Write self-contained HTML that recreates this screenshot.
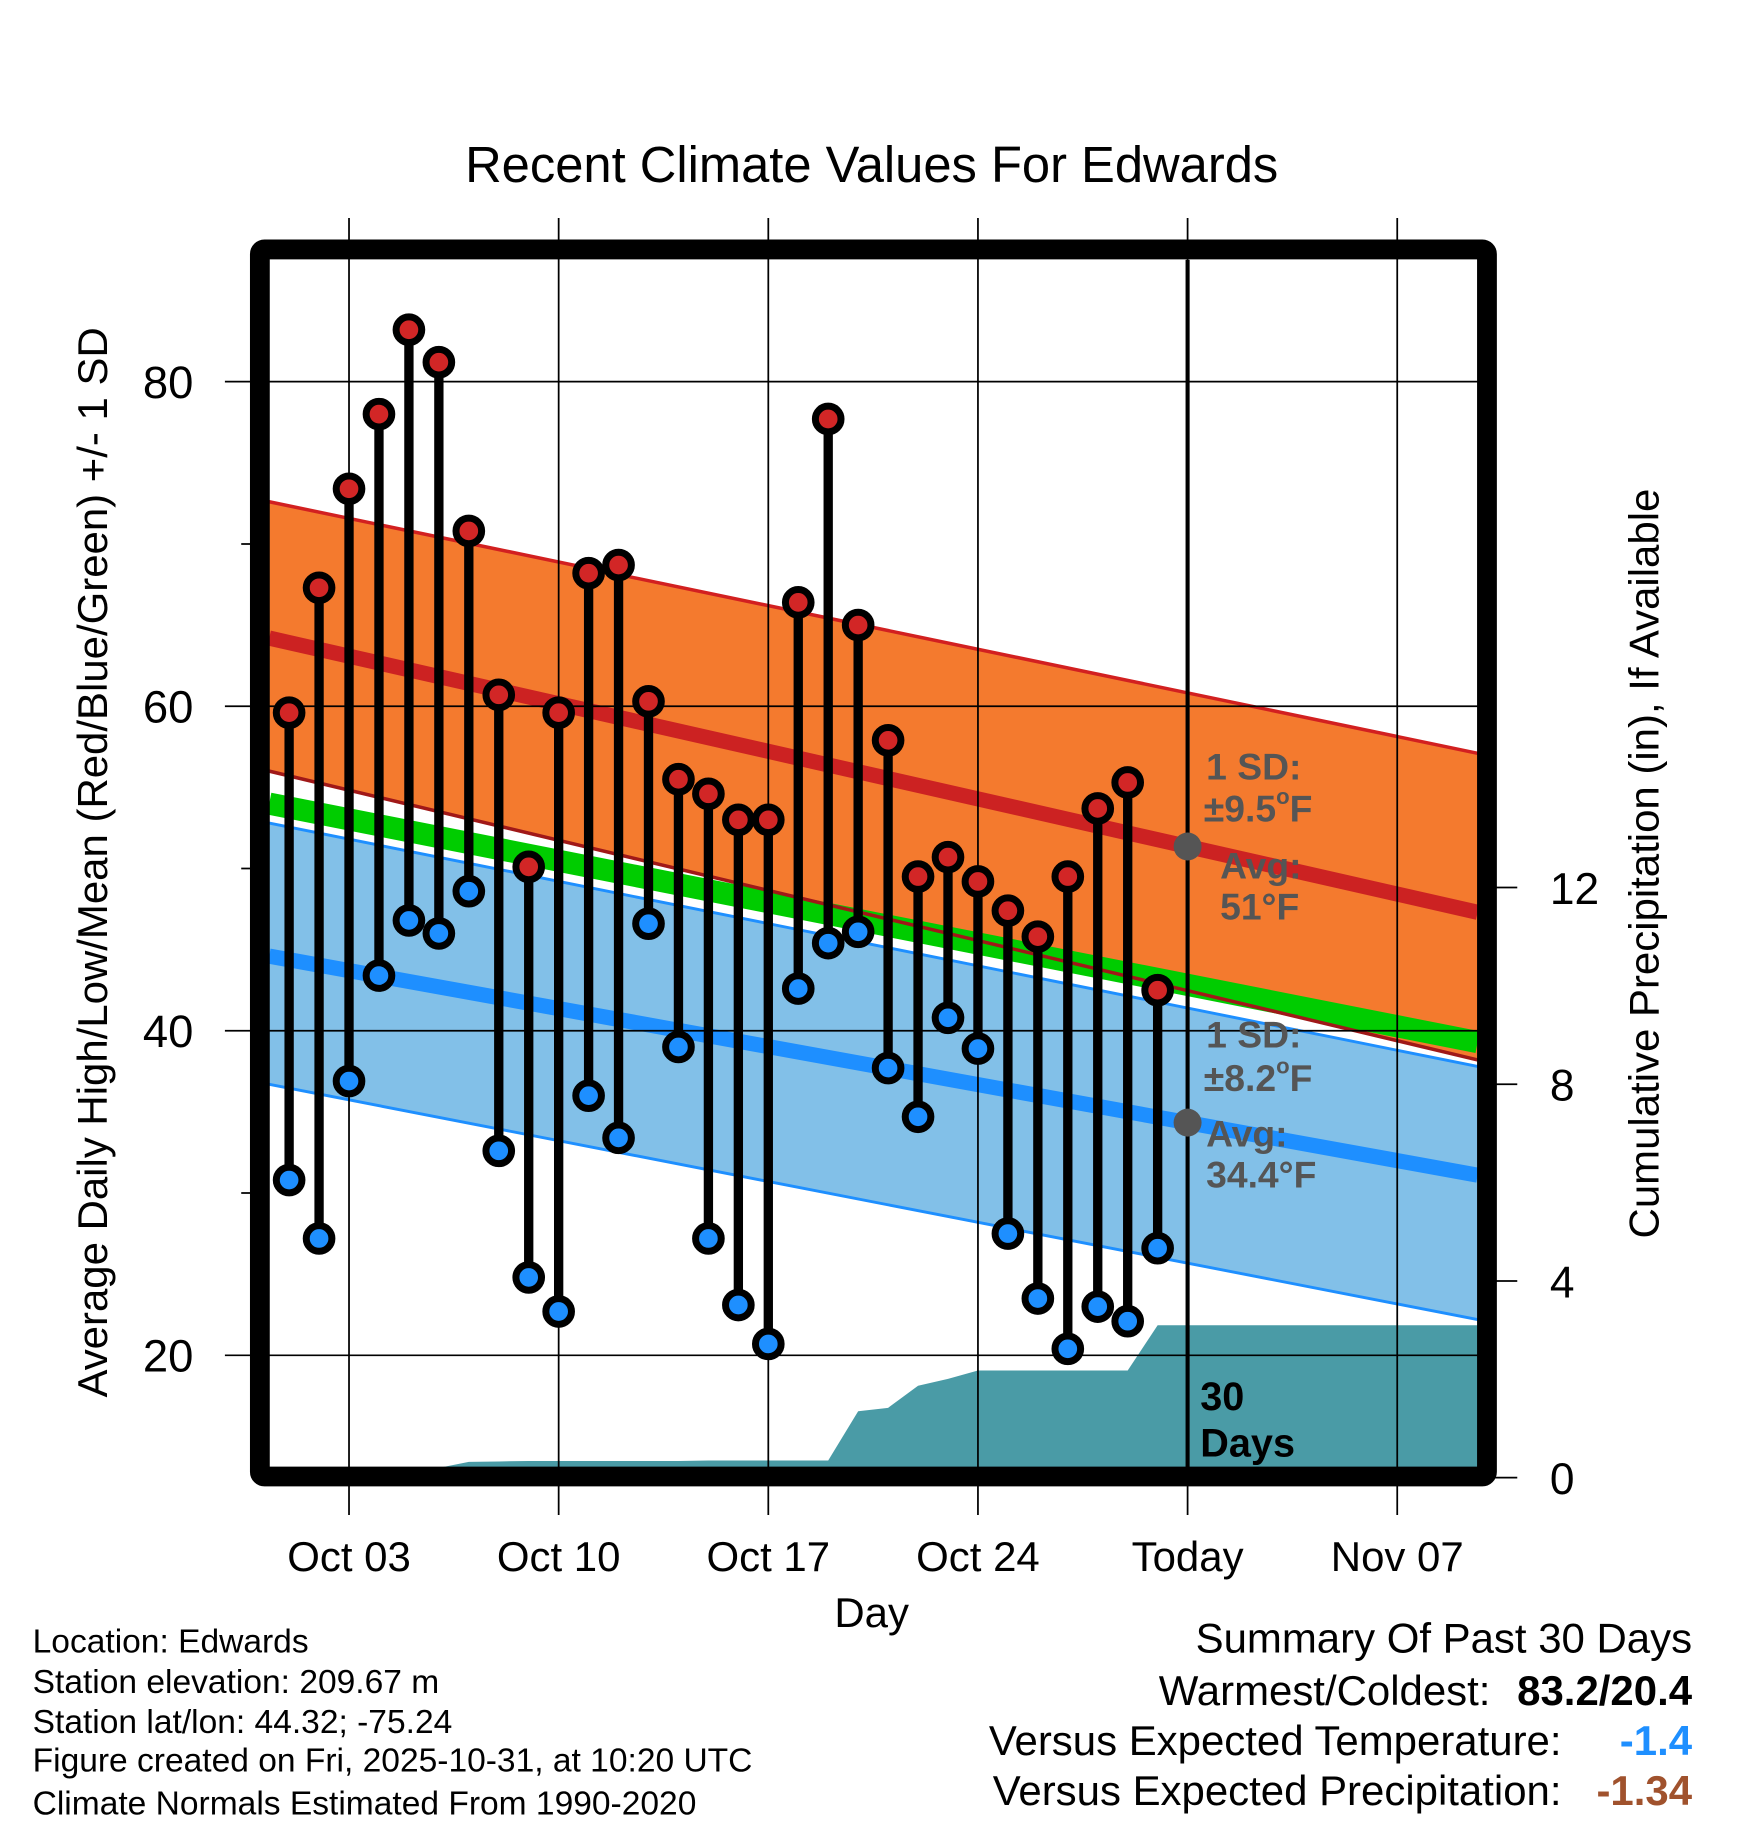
<!DOCTYPE html>
<html><head><meta charset="utf-8"><style>html,body{margin:0;padding:0;background:#fff}svg{display:block;font-family:"Liberation Sans",Arial,sans-serif}</style></head>
<body>
<svg id="c" width="1748" height="1828" viewBox="0 0 1500 1568.6"></svg>
<script>
const days = ["Oct 01","Oct 02","Oct 03","Oct 04","Oct 05","Oct 06","Oct 07","Oct 08","Oct 09","Oct 10","Oct 11","Oct 12","Oct 13","Oct 14","Oct 15","Oct 16","Oct 17","Oct 18","Oct 19","Oct 20","Oct 21","Oct 22","Oct 23","Oct 24","Oct 25","Oct 26","Oct 27","Oct 28","Oct 29","Oct 30"];
const highs = [59.6,67.3,73.4,78.0,83.2,81.2,70.8,60.7,50.1,59.6,68.2,68.7,60.3,55.5,54.6,53.0,53.0,66.4,77.7,65.0,57.9,49.5,50.7,49.2,47.4,45.8,49.5,53.7,55.3,42.5];
const lows = [30.8,27.2,36.9,43.4,46.8,46.0,48.6,32.6,24.8,22.7,36.0,33.4,46.6,39.0,27.2,23.1,20.7,42.6,45.4,46.1,37.7,34.7,40.8,38.9,27.5,23.5,20.4,23.0,22.1,26.6];
const precip = [0,0,0,0,0,0.2,0.32,0.33,0.34,0.34,0.34,0.34,0.34,0.34,0.35,0.35,0.35,0.35,0.35,1.35,1.42,1.87,2.01,2.18,2.18,2.18,2.18,2.18,2.18,3.1];
const normHigh = [64.2,47.3];
const hiUpper = [72.6,57.1];
const hiLower = [56.0,38.2];
const normLow = [44.6,31.1];
const loUpper = [52.8,37.8];
const loLower = [36.7,22.2];
const normMean = [54.0,39.3];
const yTicks = [20,40,60,80];
const yMinor = [30,50,70];
const pTicks = [0,4,8,12];
const xTickLabels = ["Oct 03","Oct 10","Oct 17","Oct 24","Today","Nov 07"];
const xTickDays = [2,9,16,23,30,37];

const svg=document.getElementById('c');
const NS='http://www.w3.org/2000/svg';
const L=231,R=1268,T=223,B=1259;
const X=d=>248.1+d*25.7;
const Y=v=>327.5+(80-v)*13.925;
const P=v=>1268-v*42.2;
function el(tag,attrs,parent){const e=document.createElementNS(NS,tag);for(const k in attrs)e.setAttribute(k,attrs[k]);(parent||svg).appendChild(e);return e;}
function txt(s,x,y,size,opt){opt=opt||{};const t=el('text',{x:x,y:y,'font-size':size,fill:opt.fill||'#000','text-anchor':opt.anchor||'start','font-weight':opt.bold?'bold':'normal'});if(opt.tr)t.setAttribute('transform',opt.tr);t.textContent=s;return t;}
function band(a,b,fill,name){const e=el('polygon',{points:`${L},${Y(a[0])} ${R},${Y(a[1])} ${R},${Y(b[1])} ${L},${Y(b[0])}`,fill:fill});}
function line(a,col,w){return el('line',{x1:L,y1:Y(a[0]),x2:R,y2:Y(a[1]),stroke:col,'stroke-width':w});}
let t=txt('Recent Climate Values For Edwards',748,156,43.5,{anchor:'middle'});


band(hiUpper,hiLower,'#f47a2e','high-sd-band');
band(loUpper,loLower,'#82c0e8','low-sd-band');
let e=line(normMean,'#00cc00',19);


line(hiUpper,'#d22020',3);
line(hiLower,'#a01818',3);
line(loUpper,'#1e8fff',2.5);
line(loLower,'#1e8fff',2.5);
e=line(normHigh,'#cc2222',13);


e=line(normLow,'#1e8fff',13);


let pts=`${L},${P(0)} `;
precip.forEach((v,i)=>{pts+=`${X(i)},${P(v)} `;});
pts+=`${X(precip.length-1)+23},${P(precip[precip.length-1])} ${R},${P(precip[precip.length-1])} ${R},${P(0)}`;
e=el('polygon',{points:pts,fill:'#4a9ba6'});


yTicks.forEach(v=>{el('line',{x1:193,y1:Y(v),x2:R,y2:Y(v),stroke:'#000','stroke-width':1.5});
 let tt=txt(String(v),166,Y(v)+14,39,{anchor:'end'});
 
 });
yMinor.forEach(v=>{el('line',{x1:207,y1:Y(v),x2:222,y2:Y(v),stroke:'#000','stroke-width':1.5});});
xTickDays.forEach((d,i)=>{el('line',{x1:X(d),y1:187,x2:X(d),y2:1300,stroke:'#000','stroke-width':1.5});
 let tt=txt(xTickLabels[i],X(d),1348,36,{anchor:'middle'});
 
 });
pTicks.forEach(v=>{el('line',{x1:1276,y1:P(v),x2:1302,y2:P(v),stroke:'#000','stroke-width':1.5});
 let tt=txt(String(v),1330,P(v)+14,38,{anchor:'start'});
 
 });
e=el('line',{x1:X(30),y1:T,x2:X(30),y2:B,stroke:'#000','stroke-width':3.5});


highs.forEach((h,i)=>{
 const g=el('g',{});
 
 
 el('line',{x1:X(i),y1:Y(h),x2:X(i),y2:Y(lows[i]),stroke:'#000','stroke-width':8},g);
 el('circle',{cx:X(i),cy:Y(h),r:11,fill:'#d22626',stroke:'#000','stroke-width':6},g);
 el('circle',{cx:X(i),cy:Y(lows[i]),r:11,fill:'#1e8fff',stroke:'#000','stroke-width':6},g);
});
const gc='#555';
function deg(s,x,y){const t=el('text',{x:x,y:y,'font-size':32,fill:gc,'font-weight':'bold'});t.appendChild(document.createTextNode(s));const ts=el('tspan',{'font-size':19,dy:-15},t);ts.textContent='o';const t2=el('tspan',{dy:15},t);t2.textContent='F';}
txt('1 SD:',1035,669,32,{fill:gc,bold:true});
deg('±9.5',1033,705);
el('circle',{cx:X(30),cy:Y(normHigh[0]+(normHigh[1]-normHigh[0])*(X(30)-L)/(R-L)),r:12,fill:'#555'});
txt('Avg:',1047,754,32,{fill:gc,bold:true});
txt('51°F',1047,789,32,{fill:gc,bold:true});
txt('1 SD:',1035,899,32,{fill:gc,bold:true});
deg('±8.2',1033,936);
el('circle',{cx:X(30),cy:Y(normLow[0]+(normLow[1]-normLow[0])*(X(30)-L)/(R-L)),r:12,fill:'#555'});
txt('Avg:',1035,984,32,{fill:gc,bold:true});
txt('34.4°F',1035,1019,32,{fill:gc,bold:true});
txt('30',1030,1210,34,{bold:true});
txt('Days',1030,1250,34,{bold:true});
e=el('rect',{x:223,y:214,width:1053,height:1053,fill:'none',stroke:'#000','stroke-width':17,rx:4});


t=txt('Average Daily High/Low/Mean (Red/Blue/Green) +/- 1 SD',92,740,36,{anchor:'middle',tr:'rotate(-90 92 740)'});


t=txt('Cumulative Precipitation (in), If Available',1423,741,36,{anchor:'middle',tr:'rotate(-90 1423 741)'});


t=txt('Day',748,1396,36,{anchor:'middle'});


const foot=['Location: Edwards','Station elevation: 209.67 m','Station lat/lon: 44.32; -75.24','Figure created on Fri, 2025-10-31, at 10:20 UTC','Climate Normals Estimated From 1990-2020'];
const fy=[1418,1453,1487,1520,1557];
foot.forEach((s,i)=>{let f=txt(s,28,fy[i],28.8);});
t=txt('Summary Of Past 30 Days',1452,1418,36,{anchor:'end'});


txt('Warmest/Coldest:',1279,1463,36,{anchor:'end'});
txt('83.2/20.4',1452,1463,36,{anchor:'end',bold:true});
txt('Versus Expected Temperature:',1340,1506,36,{anchor:'end'});
txt('-1.4',1452,1506,36,{anchor:'end',bold:true,fill:'#1e8fff'});
txt('Versus Expected Precipitation:',1340,1549,36,{anchor:'end'});
txt('-1.34',1452,1549,36,{anchor:'end',bold:true,fill:'#a0522d'});
</script>
</body></html>
